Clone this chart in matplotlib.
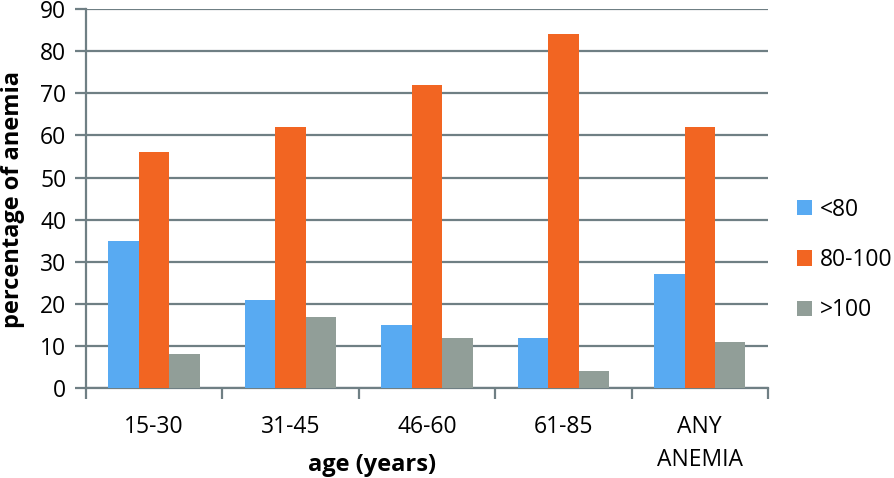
import matplotlib
matplotlib.use('Agg')
import matplotlib.pyplot as plt
from matplotlib.patches import Patch
import numpy as np

plt.rcParams['font.family'] = ['Open Sans', 'DejaVu Sans']

# data
categories = ['15-30', '31-45', '46-60', '61-85', 'ANY\nANEMIA']
series_names = ['<80', '80-100', '>100']
under_80 = [35, 21, 15, 12, 27]
from_80_100 = [56, 62, 72, 84, 62]
over_100 = [8, 17, 12, 4, 11]

colors = ['#58aaf2', '#f26522', '#919e98']
grid_col = '#6f7f84'
fs = 16.5

fig = plt.figure(figsize=(8.95, 4.78), dpi=100)
ax = fig.add_axes([0.096, 0.188, 0.762, 0.793])

x = np.arange(len(categories))
w = 0.223
for i, (vals, col) in enumerate(zip([under_80, from_80_100, over_100], colors)):
    ax.bar(x + (i - 1) * w, vals, width=w, color=col, zorder=3)

ax.set_xlim(-0.5, len(categories) - 0.5)
ax.set_ylim(0, 90)
ax.set_yticks(range(0, 91, 10))
ax.yaxis.grid(True, color=grid_col, linewidth=1.6, zorder=0)
ax.tick_params(axis='y', length=8, width=1.6, color=grid_col, labelsize=fs, pad=6)

ax.set_xticks(x)
ax.set_xticklabels(categories, fontsize=fs, va='top', linespacing=1.55)
ax.tick_params(axis='x', which='major', length=0, pad=19)
ax.set_xticks(np.arange(-0.5, len(categories)), minor=True)
ax.tick_params(axis='x', which='minor', length=8, width=1.6, color=grid_col)

for s in ['top', 'right']:
    ax.spines[s].set_visible(False)
for s in ['left', 'bottom']:
    ax.spines[s].set_color(grid_col)
    ax.spines[s].set_linewidth(1.6)

fig.text(13 / 895, 1 - 199 / 478, 'percentage of anemia', fontsize=17,
         fontweight='bold', rotation=90, ha='center', va='center')
fig.text(372 / 895, 1 - 465 / 478, 'age (years)', fontsize=17, fontweight='bold',
         ha='center', va='center')

handles = [Patch(facecolor=c, edgecolor='none') for c in colors]
fig.legend(handles, series_names, loc='center left', bbox_to_anchor=(797 / 895, 1 - 260 / 478),
           frameon=False, fontsize=fs, borderpad=0, borderaxespad=0,
           handlelength=0.65, handleheight=0.65, handletextpad=0.33, labelspacing=1.15)

fig.savefig('out.png', dpi=100, facecolor='white')
